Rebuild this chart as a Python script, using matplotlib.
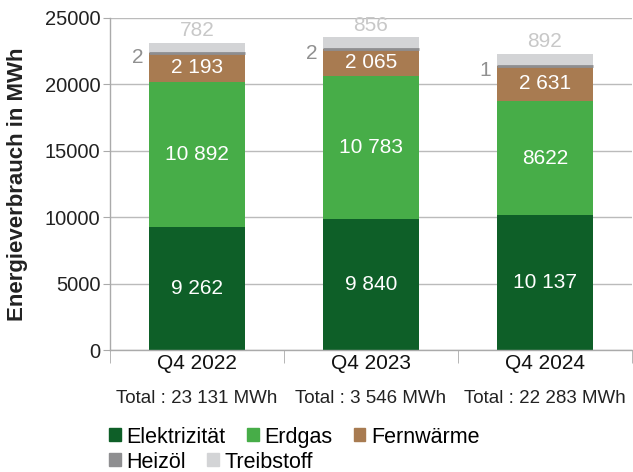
import matplotlib
matplotlib.use("Agg")
import matplotlib.pyplot as plt
from matplotlib.patches import Patch
import numpy as np

plt.rcParams['font.family'] = ['Liberation Sans', 'DejaVu Sans']

categories = ["Q4 2022", "Q4 2023", "Q4 2024"]
totals_text = ["Total : 23 131 MWh", "Total : 3 546 MWh", "Total : 22 283 MWh"]
series_names = ["Elektrizität", "Erdgas", "Fernwärme", "Heizöl", "Treibstoff"]
elektrizitaet = [9262, 9840, 10137]
erdgas = [10892, 10783, 8622]
fernwaerme = [2193, 2065, 2631]
heizoel = [2, 2, 1]
treibstoff = [782, 856, 892]
colors = ["#0e5f28", "#47ad48", "#a87b51", "#8e8e90", "#d3d4d6"]

fig = plt.figure(figsize=(6.33, 4.72), dpi=100)
ax = fig.add_axes([0.174, 0.258, 0.824, 0.704])

x = np.arange(len(categories))
w = 0.55
data = [elektrizitaet, erdgas, fernwaerme, heizoel, treibstoff]
bottom = np.zeros(3)
bars = []
for i, (vals, c) in enumerate(zip(data, colors)):
    if series_names[i] == "Heizöl":
        b = ax.bar(x, vals, w, bottom=bottom, color=c, edgecolor=c, linewidth=2.0, zorder=3)
    else:
        b = ax.bar(x, vals, w, bottom=bottom, color=c, linewidth=0, zorder=2)
    bars.append((b, bottom.copy(), vals))
    bottom = bottom + np.array(vals)

def fmt_sep(v):
    return f"{v:,}".replace(",", " ")

label_fmt = {
    0: fmt_sep,
    1: lambda v: fmt_sep(v) if v >= 10000 else str(v),
    2: fmt_sep,
}
for i in range(3):
    for s in range(3):
        b, bot, vals = bars[s]
        v = vals[i]
        ax.text(x[i], bot[i] + v / 2, label_fmt[s](v), ha="center", va="center",
                color="white", fontsize=15, zorder=4)
    b, bot, vals = bars[3]
    ax.text(x[i] - w / 2 - 0.035, bot[i] - 350, str(vals[i]), ha="right", va="center",
            color="#909090", fontsize=15, zorder=4)
    b, bot, vals = bars[4]
    ax.text(x[i], bot[i] + vals[i] + 200, str(vals[i]), ha="center", va="bottom",
            color="#c8c8c8", fontsize=15, zorder=4)

ax.set_xlim(-0.5, 2.5)
ax.set_ylim(0, 25000)
ax.set_yticks([0, 5000, 10000, 15000, 20000, 25000])
ax.tick_params(axis="y", labelsize=14.5, colors="#222222", direction="out", length=5, color="#aaaaaa", pad=2)
ax.set_xticks(x)
ax.set_xticklabels(categories)
ax.tick_params(axis="x", which="major", length=0, labelsize=15, labelcolor="#111111", pad=3)
ax.set_xticks([-0.5, 0.5, 1.5, 2.5], minor=True)
ax.tick_params(axis="x", which="minor", length=9, color="#aaaaaa", direction="out")
ax.grid(axis="y", color="#bbbbbb", linewidth=1, zorder=0)
ax.set_axisbelow(True)
for sp in ["top", "right"]:
    ax.spines[sp].set_visible(False)
for sp in ["left", "bottom"]:
    ax.spines[sp].set_color("#aaaaaa")
    ax.spines[sp].set_linewidth(1)

ax.set_ylabel("Energieverbrauch in MWh", fontsize=16, fontweight="bold", color="#222222")
ax.yaxis.set_label_coords(-0.158, 0.5)

for i in range(3):
    ax.text(x[i], -0.145, totals_text[i], transform=ax.get_xaxis_transform(),
            ha="center", va="center", fontsize=13.5, color="#222222")

h = [Patch(color=c) for c in colors]
common = dict(frameon=False, fontsize=15.5, handlelength=0.55, handleheight=0.55,
              handletextpad=0.25, columnspacing=1.0, borderaxespad=0, borderpad=0)
leg1 = fig.legend(h[:3], series_names[:3], loc="center left", bbox_to_anchor=(0.172, 0.074),
                  ncol=3, **common)
leg2 = fig.legend(h[3:], series_names[3:], loc="center left", bbox_to_anchor=(0.172, 0.021),
                  ncol=2, **common)

fig.savefig("out.png", dpi=100)
